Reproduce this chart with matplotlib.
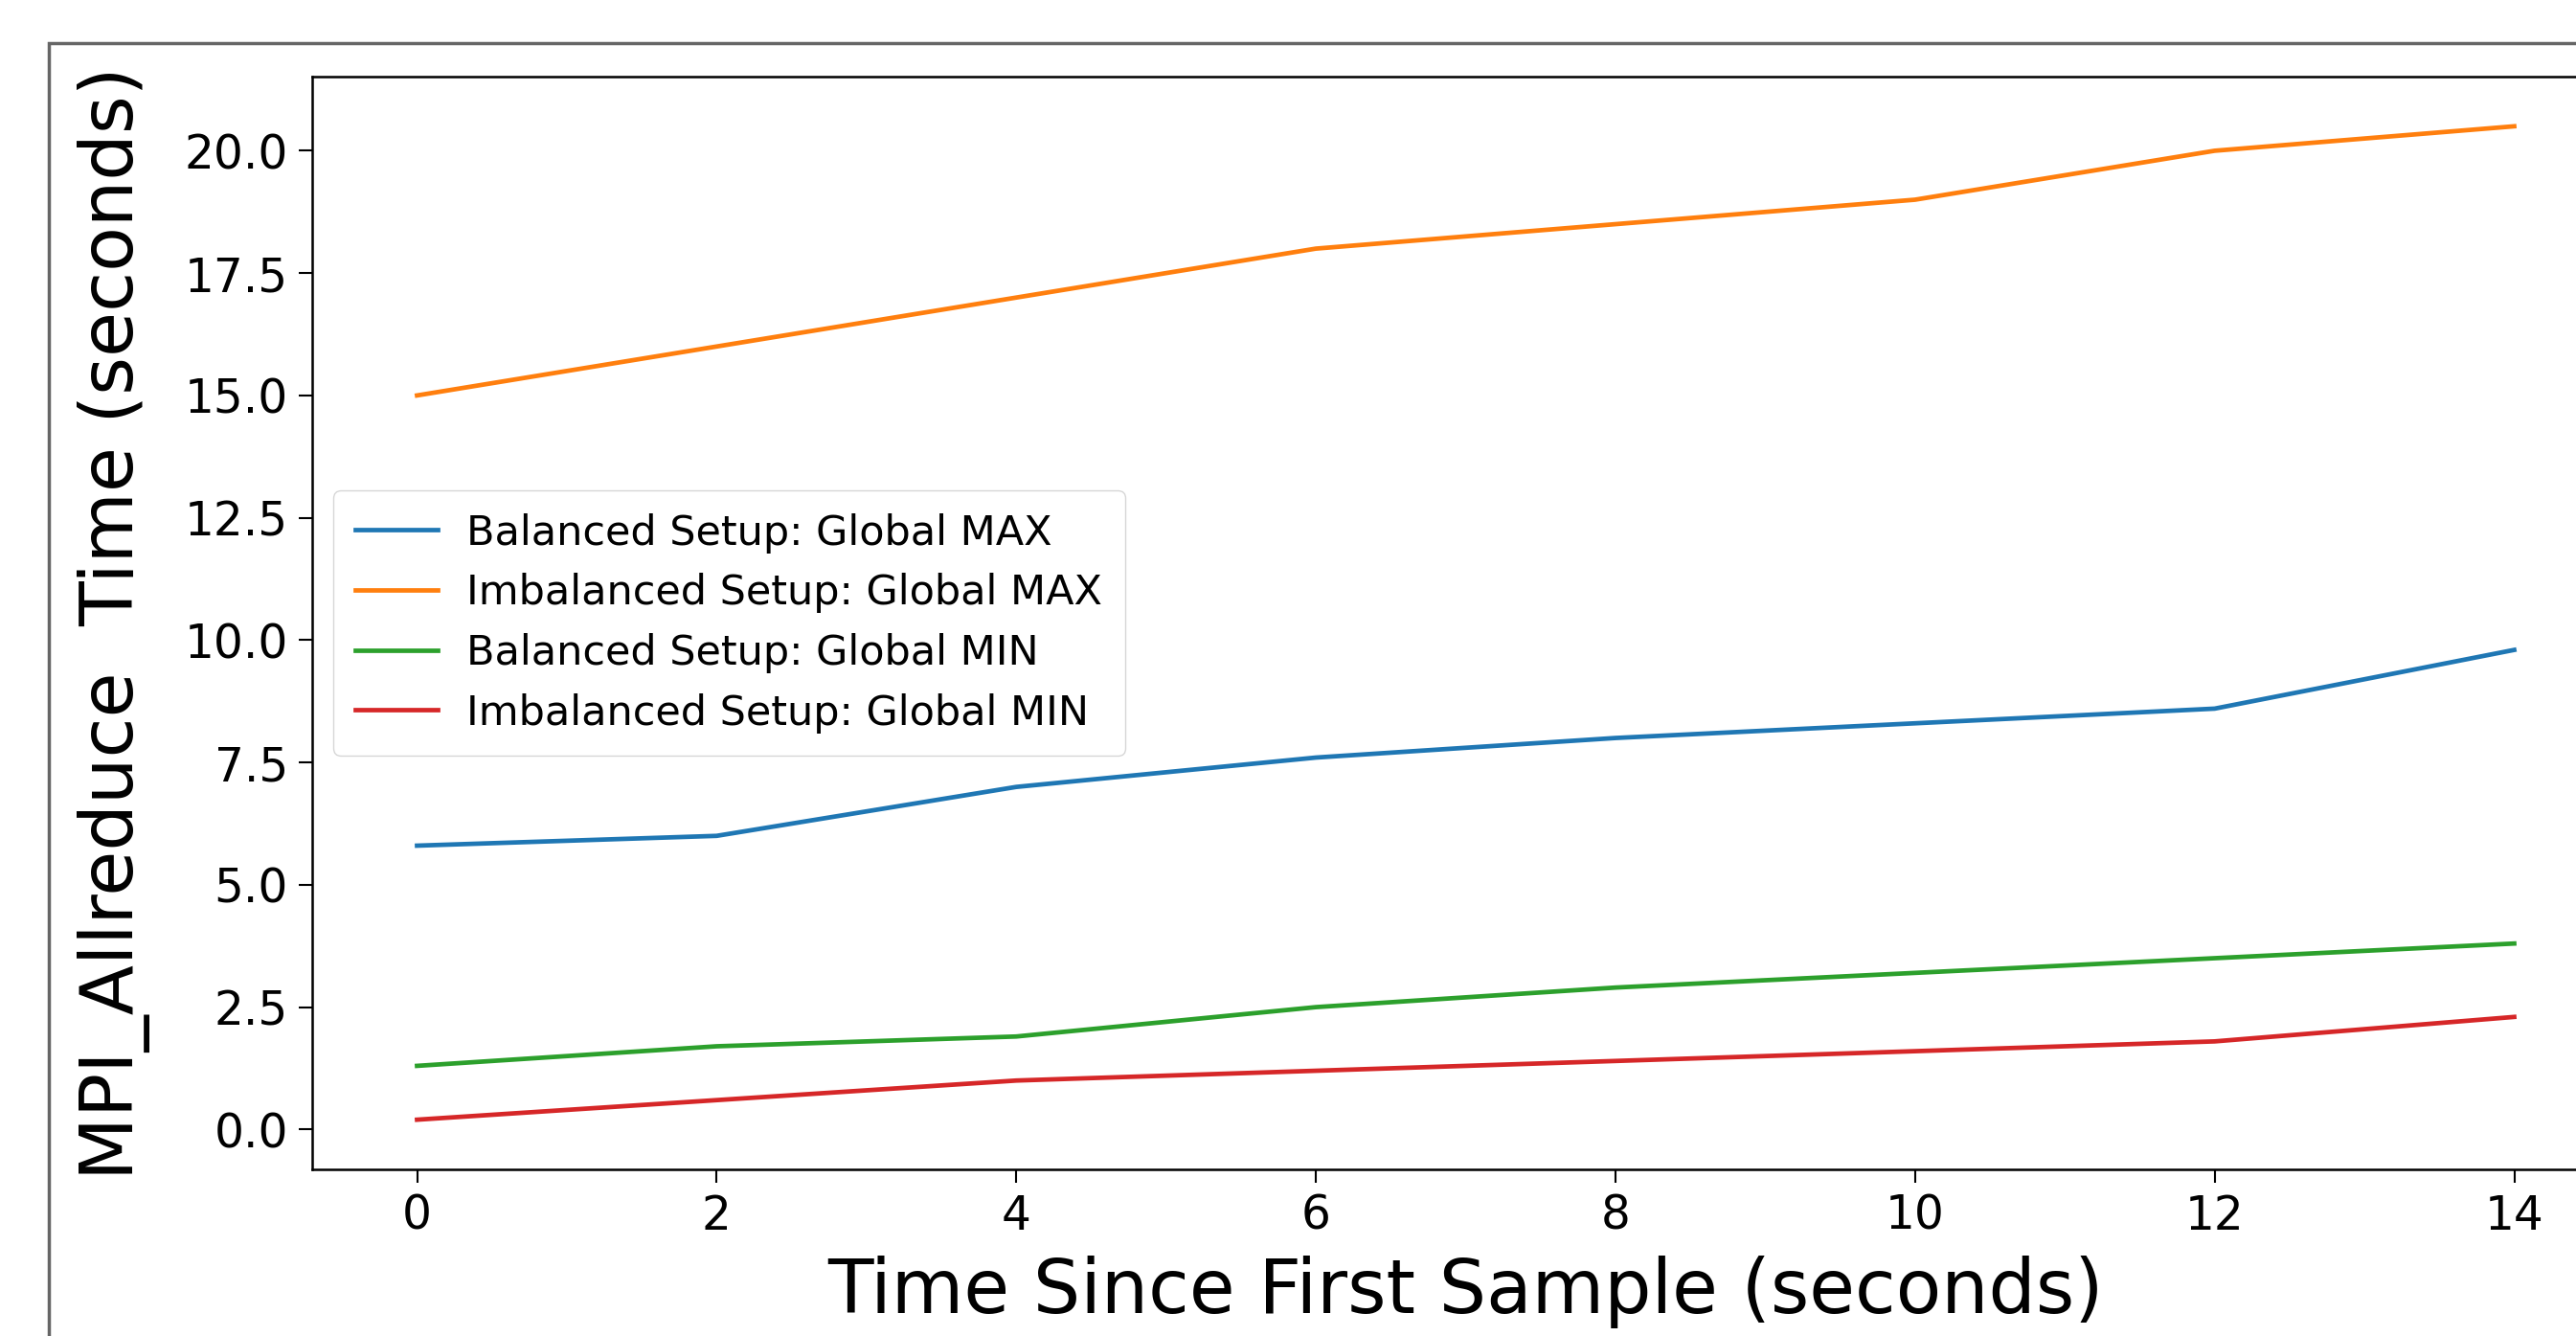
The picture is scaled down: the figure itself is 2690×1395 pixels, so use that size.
import matplotlib
matplotlib.use("Agg")
import matplotlib.pyplot as plt
from matplotlib.patches import Rectangle

# sample times (seconds since first sample)
times = [0, 2, 4, 6, 8, 10, 12, 14]

balanced_max = [5.8, 6.0, 7.0, 7.6, 8.0, 8.3, 8.6, 9.8]
imbalanced_max = [15.0, 16.0, 17.0, 18.0, 18.5, 19.0, 20.0, 20.5]
balanced_min = [1.3, 1.7, 1.9, 2.5, 2.9, 3.2, 3.5, 3.8]
imbalanced_min = [0.2, 0.6, 1.0, 1.2, 1.4, 1.6, 1.8, 2.3]

labels = [
    "Balanced Setup: Global MAX",
    "Imbalanced Setup: Global MAX",
    "Balanced Setup: Global MIN",
    "Imbalanced Setup: Global MIN",
]

W, H = 2690, 1395
fig = plt.figure(figsize=(W / 100, H / 100), dpi=100)

# notebook output frame (cut off on the right and bottom)
fig.add_artist(Rectangle((51 / W, -0.2), 1.2, 1.2 - 45 / H,
                         transform=fig.transFigure, fill=False,
                         edgecolor="#666666", linewidth=2.5))

ax = fig.add_axes([326 / W, 1 - 1221 / H, (2735 - 326) / W, (1221 - 80) / H])

series = [balanced_max, imbalanced_max, balanced_min, imbalanced_min]
for vals, lab in zip(series, labels):
    ax.plot(times, vals, linewidth=3.4, label=lab)

ax.set_xticks(times)
ax.set_yticks([0.0, 2.5, 5.0, 7.5, 10.0, 12.5, 15.0, 17.5, 20.0])
ax.tick_params(labelsize=35, length=10, width=1.5, pad=8)
for s in ax.spines.values():
    s.set_linewidth(1.8)

ax.set_xlabel("Time Since First Sample (seconds)", fontsize=56, labelpad=12)
ax.set_ylabel("MPI_Allreduce  Time (seconds)", fontsize=55, labelpad=26)

ax.legend(loc="center left", bbox_to_anchor=(0.0, 0.5), fontsize=31,
          handlelength=2.0, borderpad=0.55, labelspacing=0.48,
          handletextpad=0.7)

fig.savefig("out.png", dpi=100)
